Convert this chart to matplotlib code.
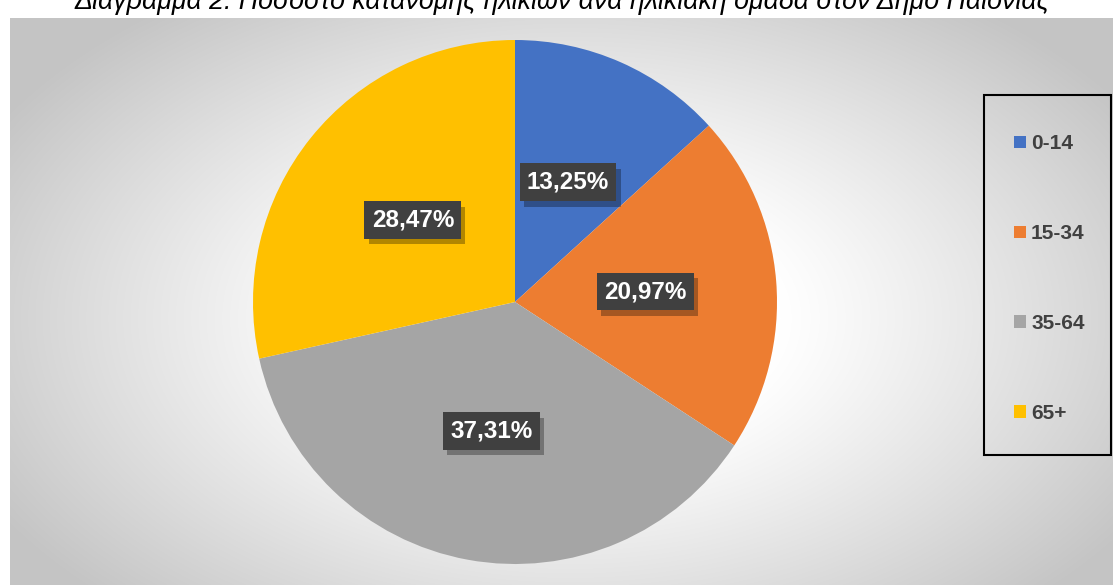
import numpy as np
import matplotlib
matplotlib.use('Agg')
import matplotlib.pyplot as plt
import matplotlib.patches as mpatches
import matplotlib.patheffects as pe

# Δεδομένα
ομάδες = ['0-14', '15-34', '35-64', '65+']
ποσοστά = [13.25, 20.97, 37.31, 28.47]
χρώματα = ['#4472C4', '#ED7D31', '#A5A5A5', '#FFC000']
τίτλος = 'Διάγραμμα 2: Ποσοστό κατανομής ηλικιών ανά ηλικιακή ομάδα στον Δήμο Παιονίας'

W, H = 1113, 585
fig = plt.figure(figsize=(W / 100, H / 100), dpi=100)
fig.patch.set_facecolor('white')


def px(x0, y0, x1, y1):
    # pixel box (from top-left) -> figure fraction [left, bottom, width, height]
    return [x0 / W, 1 - y1 / H, (x1 - x0) / W, (y1 - y0) / H]


# Φόντο με ακτινική διαβάθμιση (λευκό στο κέντρο, γκρι στις άκρες)
bg = fig.add_axes(px(10, 18, W, H))
ny, nx = 567, 1103
yy, xx = np.mgrid[0:ny, 0:nx]
cx, cy = 560, 300
d = np.sqrt(((xx - cx) / 600.0) ** 2 + ((yy - cy) / 360.0) ** 2)
val = 1.0 - 0.23 * np.clip((d - 0.35) / 0.75, 0, 1) ** 1.1
img = np.dstack([val, val, val])
bg.imshow(img, aspect='auto', extent=(0, 1, 0, 1), interpolation='bilinear')
bg.set_axis_off()

# Τίτλος (κομμένος στο πάνω άκρο, όπως στη σελίδα)
fig.text(562 / W, 1 - 9 / H, τίτλος, ha='center', va='baseline', fontsize=19.3,
         style='italic', color='black',
         family=['Liberation Sans', 'DejaVu Sans'])

# Πίτα
ax = fig.add_axes(px(253, 40, 777, 564))
wedges, texts, autotexts = ax.pie(
    ποσοστά, colors=χρώματα, startangle=90, counterclock=False,
    autopct=lambda p: f'{p:.2f}%'.replace('.', ','), pctdistance=0.5,
    wedgeprops=dict(linewidth=0))
ax.set_xlim(-1, 1)
ax.set_ylim(-1, 1)
ax.set_aspect('equal')

for t in autotexts:
    t.set_color('white')
    t.set_fontweight('bold')
    t.set_fontsize(17.5)
    t.set_family(['Liberation Sans', 'DejaVu Sans'])
    t.set_bbox(dict(boxstyle='square,pad=0.3', facecolor='#404040',
                    edgecolor='none'))
    t.get_bbox_patch().set_path_effects([
        pe.SimplePatchShadow(offset=(3, -4), shadow_rgbFace='black', alpha=0.3),
        pe.Normal()])

# Πλαίσιο υπομνήματος
box = mpatches.Rectangle((984 / W, 1 - 455 / H), (1111 - 984) / W, (455 - 95) / H,
                         transform=fig.transFigure, facecolor='none',
                         edgecolor='black', linewidth=1.5)
fig.patches.append(box)

leg = fig.legend(wedges, ομάδες, loc='upper left',
                 bbox_to_anchor=(1004 / W, 1 - 124 / H), frameon=False,
                 prop={'weight': 'bold', 'size': 15,
                       'family': ['Liberation Sans', 'DejaVu Sans']},
                 labelspacing=3.4, handlelength=0.55, handleheight=0.55,
                 handletextpad=0.25, borderpad=0)
for txt in leg.get_texts():
    txt.set_color('#404040')

fig.savefig('out.png', dpi=100)
